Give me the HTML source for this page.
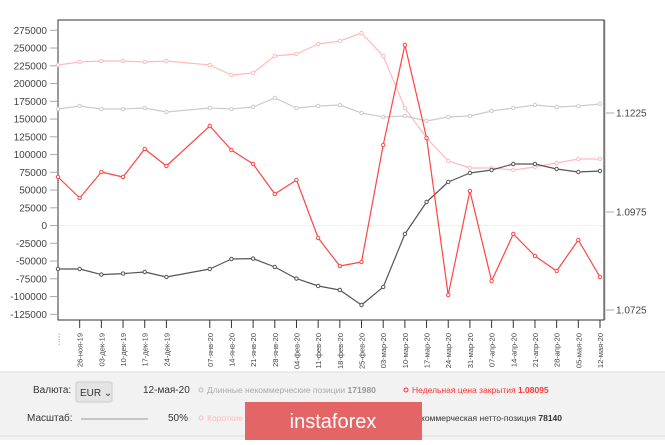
<!DOCTYPE html>
<html><head><meta charset="utf-8"><style>
body{margin:0;width:665px;height:440px;overflow:hidden;background:#fff;font-family:"Liberation Sans",sans-serif}
</style></head><body>
<svg width="665" height="440" xmlns="http://www.w3.org/2000/svg" font-family="Liberation Sans, sans-serif">
<rect x="0" y="0" width="665" height="440" fill="#fff"/>
<g id="yl" font-size="10" fill="#444" text-anchor="end"></g>
<line x1="58" y1="225.6" x2="604" y2="225.6" stroke="#eee"/>
<rect x="58" y="20" width="546" height="300" fill="none" stroke="#333" stroke-width="1"/>
<line x1="605" y1="20" x2="605" y2="320" stroke="#bbb"/>
<g id="plot"></g>
<g id="xt"></g>
<rect x="0" y="372" width="665" height="68" fill="#f2f2f2"/>
<line x1="0" y1="372" x2="665" y2="372" stroke="#ddd"/>
<line x1="0" y1="436" x2="665" y2="436" stroke="#ddd"/>
<text x="33" y="393" font-size="10" fill="#333">Валюта:</text>
<rect x="76" y="382" width="36" height="20" rx="2" fill="#e4e4e4" stroke="#ccc"/>
<text x="80" y="396" font-size="10" fill="#333">EUR ⌄</text>
<text x="143" y="393" font-size="10" fill="#333">12-мая-20</text>
<circle cx="201" cy="390" r="2" fill="none" stroke="#bbb"/>
<text x="207" y="393" font-size="8.5" fill="#aaa">Длинные некоммерческие позиции <tspan font-weight="bold" fill="#999">171980</tspan></text>
<circle cx="406" cy="390" r="2" fill="none" stroke="#f33"/>
<text x="412" y="393" font-size="8.5" fill="#f33">Недельная цена закрытия <tspan font-weight="bold">1.08095</tspan></text>
<text x="27" y="421" font-size="10" fill="#333">Масштаб:</text>
<line x1="81" y1="419" x2="148" y2="419" stroke="#999"/>
<text x="168" y="421" font-size="10" fill="#333">50%</text>
<circle cx="201" cy="418" r="2" fill="none" stroke="#fbb"/>
<text x="207" y="421" font-size="8.5" fill="#fbb">Короткие</text>
<text x="421" y="421" font-size="8.5" fill="#333">коммерческая нетто-позиция <tspan font-weight="bold">78140</tspan></text>
<rect x="245" y="402" width="177" height="38" fill="#e46565"/>
<text x="333" y="428" font-size="20" fill="#fff" text-anchor="middle">instaforex</text>
</svg>
<script>
const NS="http://www.w3.org/2000/svg";
function el(t,a,p,txt){const e=document.createElementNS(NS,t);for(const k in a)e.setAttribute(k,a[k]);if(txt!=null)e.textContent=txt;document.getElementById(p).appendChild(e);}
for(let i=0;i<=16;i++){const v=275000-i*25000;const y=30.3+i*17.75;
el('text',{x:47,y:y+3.5},'yl',String(v));el('line',{x1:50,y1:y,x2:57,y2:y,stroke:'#aaa'},'yl');}
[[1.1225,113],[1.0975,212],[1.0725,310]].forEach(([v,y])=>{el('line',{x1:606,y1:y,x2:614,y2:y,stroke:'#aaa'},'plot');el('text',{x:616,y:y+3.5,'font-size':10,fill:'#444'},'plot',v.toFixed(4));});
const X=k=>58+k*21.68;
const pink=[65,62,61,61,62,61,null,65,75,73,56,54,44,41,33,56,108,138,161,168,168,170,167,163,159,159];
const gray=[109,106,109,109,108,112,null,108,109,107,98,108,106,105,113,117,116,121,117,116,111,108,105,107,106,104];
const red=[177,198,172,177,149,166,null,126,150,164,194,180,238,266,262,145,45,138,295,191,281,234,256,271,240,277];
const dark=[269,269,274.6,273.6,272,277,null,269,259,258.6,267,278.6,286,290,305,287,234,202,182,173,170,164,164,169,172,171];
function series(d,c,w){let pts=[];d.forEach((y,k)=>{if(y!=null)pts.push(X(k).toFixed(1)+','+y)});
el('polyline',{points:pts.join(' '),fill:'none',stroke:c,'stroke-width':w,'stroke-linejoin':'round'},'plot');
d.forEach((y,k)=>{if(y!=null)el('circle',{cx:X(k),cy:y,r:1.7,fill:'#fff',stroke:c,'stroke-width':1},'plot')});}
series(pink,'#fbb',1.2);series(gray,'#ccc',1.2);series(dark,'#555',1.2);series(red,'#f44',1.2);
const labels=['19-ноя-19','26-ноя-19','03-дек-19','10-дек-19','17-дек-19','24-дек-19',null,'07-янв-20','14-янв-20','21-янв-20','28-янв-20','04-фев-20','11-фев-20','18-фев-20','25-фев-20','03-мар-20','10-мар-20','17-мар-20','24-мар-20','31-мар-20','07-апр-20','14-апр-20','21-апр-20','28-апр-20','05-мая-20','12-мая-20'];
labels.forEach((l,k)=>{if(!l)return;const x=X(k);if(k>0)el('line',{x1:x,y1:320,x2:x,y2:328,stroke:'#333'},'xt');
el('text',{x:0,y:0,'font-size':7.5,fill:'#444','text-anchor':'end',transform:`translate(${x+3},333) rotate(-90)`},'xt',k==0?'·····':l);});
</script>
</body></html>
